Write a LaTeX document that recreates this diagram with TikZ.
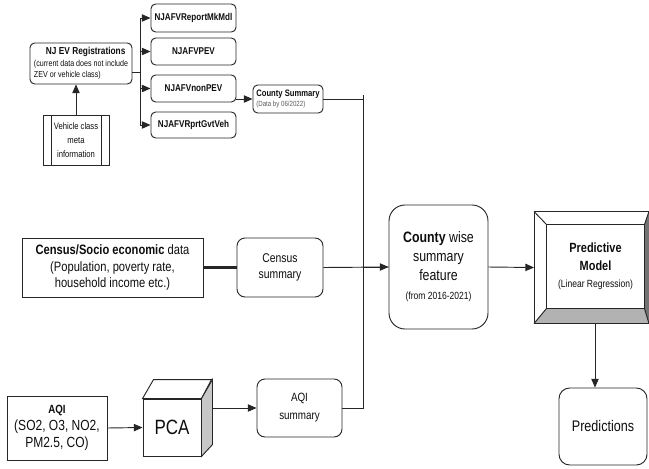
\documentclass[tikz,border=0pt]{standalone}
\usepackage{fontspec}
\setmainfont{Liberation Sans}[FakeStretch=0.82]
\usetikzlibrary{arrows.meta}

\newcommand{\fsz}[2]{\fontsize{#1}{#2}\selectfont}
\tikzset{
  rbox/.style={draw,rounded corners=3.5pt,inner sep=0.75pt,align=center},
  sbox/.style={draw,inner sep=0.75pt,align=center},
  arr/.style={-{Triangle[length=6.5pt,width=5.5pt]}}
}

\begin{document}
\begin{tikzpicture}[x=0.75pt,y=0.75pt,yscale=-1,xscale=1,
  line width=0.7pt,draw=black!85,text=black!95]
\useasboundingbox (0,0) rectangle (649,468);

%Shape: Rounded Rect [id:nj] 
\node[rbox,minimum width=76.5pt,minimum height=30.75pt,align=left,font=\fsz{6.5}{8.5}] (nj) at (81,63.5)
  {\hspace*{9pt}{\fsz{7.6}{9}\bfseries NJ EV Registrations}\\(current data does not include\\ZEV or vehicle class)};
%Shape: Rounded Rect [id:mkmdl] 
\node[rbox,minimum width=63.75pt,minimum height=21pt,font=\fsz{7.4}{9}] (mkmdl) at (193.5,18) {\textbf{NJAFVReportMkMdl}};
%Shape: Rounded Rect [id:pev] 
\node[rbox,minimum width=63.75pt,minimum height=20.25pt,font=\fsz{7.4}{9}] (pev) at (193.5,51.5) {\textbf{NJAFVPEV}};
%Shape: Rounded Rect [id:nonpev] 
\node[rbox,minimum width=63.75pt,minimum height=20.25pt,font=\fsz{7.4}{9}] (nonpev) at (193.5,88.5) {\textbf{NJAFVnonPEV}};
%Shape: Rounded Rect [id:gvt] 
\node[rbox,minimum width=63.75pt,minimum height=19.5pt,font=\fsz{7.4}{9}] (gvt) at (193.5,125) {\textbf{NJAFVRprtGvtVeh}};
%Shape: Rounded Rect [id:cntysum] 
\node[rbox,minimum width=52.5pt,minimum height=21pt,align=left,font=\fsz{5.6}{7}] (cntysum) at (288,99)
  {{\fsz{7}{8.5}\bfseries County Summary}\\{\color{black!65}(Data by 06/2022)}};
%Shape: Process [id:meta] 
\node[sbox,minimum width=49.5pt,minimum height=37.5pt,font=\fsz{7}{10.5}] (meta) at (76,140) {Vehicle class\\meta\\information};
\draw ([xshift=6.75pt]meta.north west) -- ([xshift=6.75pt]meta.south west);
\draw ([xshift=-6pt]meta.north east) -- ([xshift=-6pt]meta.south east);

%Shape: Rectangle [id:census] 
\node[sbox,minimum width=135.75pt,minimum height=44.25pt,font=\fsz{10.2}{12.5}] (census) at (112.5,267.5)
  {\textbf{Census/Socio economic} data\\(Population, poverty rate,\\household income etc.)};
%Shape: Rounded Rect [id:censum] 
\node[rbox,rounded corners=6pt,minimum width=64.5pt,minimum height=44.25pt,font=\fsz{9.5}{12.5}] (censum) at (280,267.5) {Census\\summary};

%Shape: Rectangle [id:aqi] 
\node[sbox,minimum width=75pt,minimum height=48pt,font=\fsz{11}{13}] (aqi) at (57,428)
  {{\fsz{8.9}{11}\bfseries AQI}\\(SO2, O3, NO2,\\PM2.5, CO)};
%Shape: Cube [id:pca] 
\node[sbox,minimum width=43.5pt,minimum height=42.75pt,font=\fsz{15.5}{18},fill=white] (pca) at (172,427.5) {PCA};
\draw[fill=white] (pca.north west) -- ++(11,-19) -- ++(58,0) -- (pca.north east) -- cycle;
\draw[fill=black!22] (pca.north east) -- ++(11,-19) -- ++(0,65) -- (pca.south east) -- cycle;
\coordinate (pcaout) at (213,408);
%Shape: Rounded Rect [id:aqisum] 
\node[rbox,rounded corners=6pt,minimum width=63.75pt,minimum height=43.5pt,font=\fsz{9}{13.5}] (aqisum) at (299.5,408) {AQI\\summary};

%Shape: Rounded Rect [id:feat] 
\node[rbox,rounded corners=12pt,minimum width=74.25pt,minimum height=93pt,font=\fsz{11.3}{14.3}] (feat) at (438.5,267)
  {\textbf{County} wise\\summary\\feature\\{\fsz{7.8}{10}(from 2016-2021)}};

%Shape: Bevel [id:model] 
\node[minimum width=85.5pt,minimum height=83.25pt] (model) at (591.5,267.5) {};
\node[minimum width=72.75pt,minimum height=62.25pt,align=center,font=\fsz{10}{13}] (inner) at (595.5,266.5)
  {\textbf{Predictive}\\\textbf{Model}\\{\fsz{7.8}{9.5}(Linear Regression)}};
\fill[black!30] (model.south west) -- (inner.south west) -- (inner.south east) -- (model.south east) -- cycle;
\fill[black!55] (model.north east) -- (inner.north east) -- (inner.south east) -- (model.south east) -- cycle;
\draw (model.north west) rectangle (model.south east);
\draw (inner.north west) rectangle (inner.south east);
\draw (model.north west) -- (inner.north west) (model.north east) -- (inner.north east)
  (model.south west) -- (inner.south west) (model.south east) -- (inner.south east);

%Shape: Rounded Rect [id:pred] 
\node[rbox,rounded corners=8pt,minimum width=66pt,minimum height=57.75pt,font=\fsz{11.5}{14}] (pred) at (603,426.5) {Predictions};

% Connectors
\coordinate (fork) at (140,72);
\coordinate (bus) at (363,95);
\coordinate (drop) at (595,0);
\draw (nj.east |- fork) -- (fork);
\draw (fork |- mkmdl) -- (fork |- gvt);
\foreach \t in {mkmdl,pev,nonpev,gvt}
  \draw[arr] (fork |- \t) -- (\t.west);
\draw[arr] (meta.north) -- (meta.north |- nj.south);
\draw[arr] (cntysum.west -| nonpev.east) -- (cntysum.west);
\draw (cntysum.east) -- (bus |- cntysum.east);
\draw (bus) -- (bus |- aqisum.east) -- (aqisum.east);
\draw[line width=1.8pt] (census.east) -- (censum.west);
\draw (censum.east) -- (feat.west);
\draw[arr] (bus |- feat.west) -- (feat.west);
\draw[arr] (aqi.east) -- (pca.west);
\draw[arr] (pcaout) -- (aqisum.west);
\draw[arr] (feat.east) -- (model.west);
\draw[arr] (drop |- model.south) -- (drop |- pred.north);

\end{tikzpicture}
\end{document}
